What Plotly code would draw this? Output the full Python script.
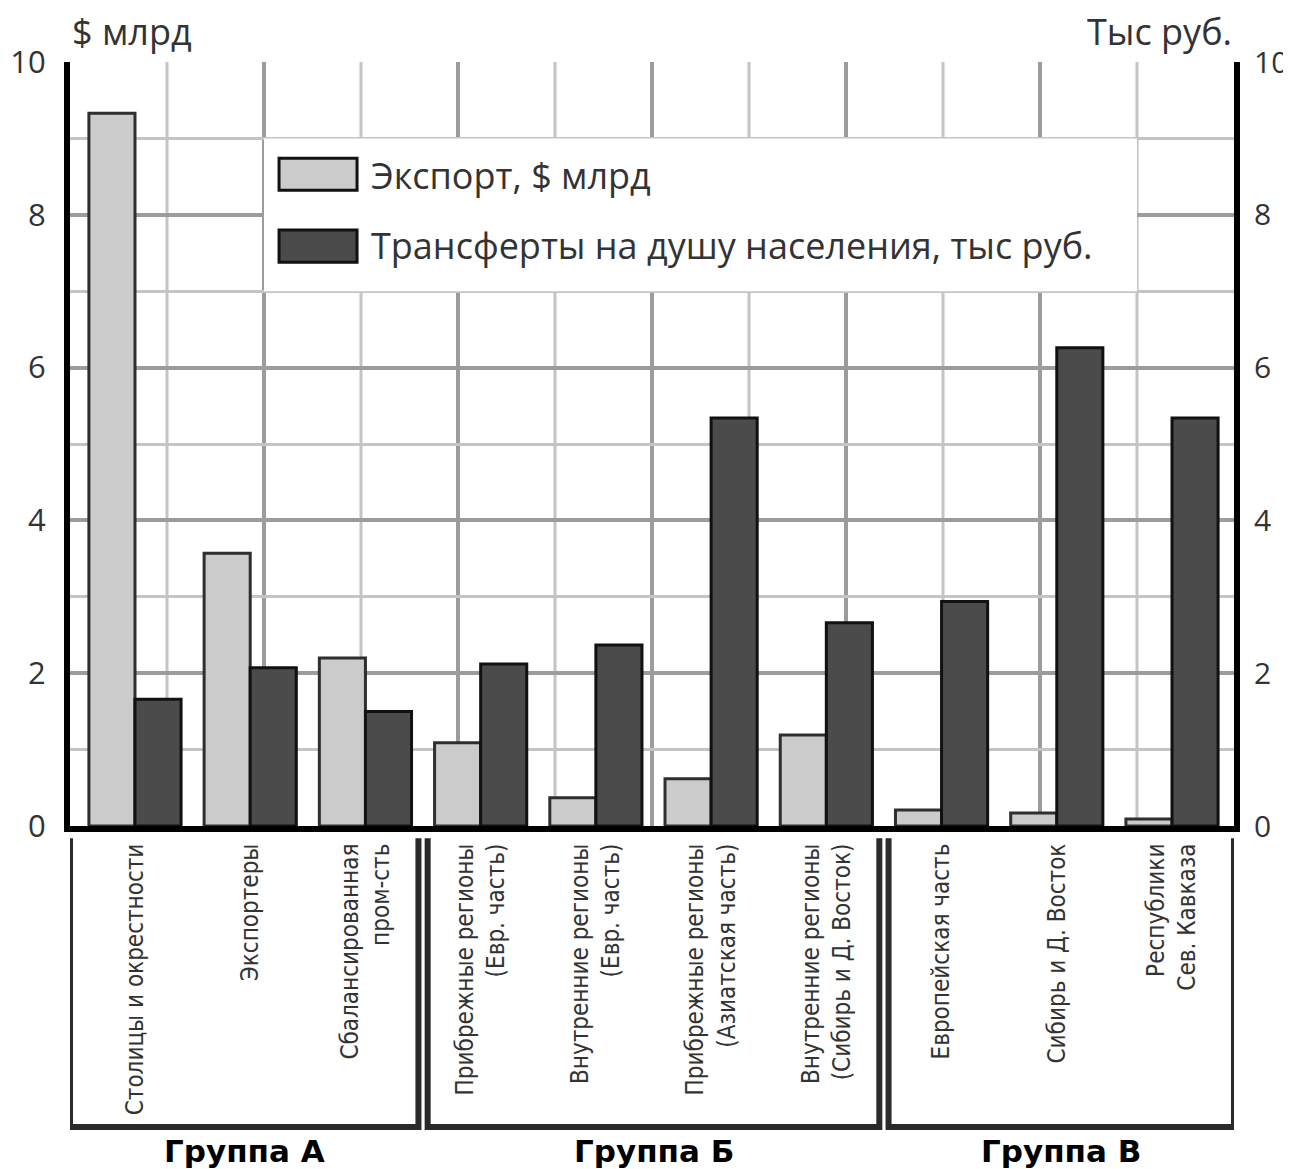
import plotly.graph_objects as go

# ---------------- data ----------------
categories = [
    "Столицы и окрестности",
    "Экспортеры",
    "Сбалансированная<br>пром-сть",
    "Прибрежные регионы<br>(Евр. часть)",
    "Внутренние регионы<br>(Евр. часть)",
    "Прибрежные регионы<br>(Азиатская часть)",
    "Внутренние регионы<br>(Сибирь и Д. Восток)",
    "Европейская часть",
    "Сибирь и Д. Восток",
    "Республики<br>Сев. Кавказа",
]
export_bn = [9.33, 3.57, 2.2, 1.09, 0.37, 0.62, 1.19, 0.21, 0.17, 0.09]
transfers_k = [1.66, 2.07, 1.5, 2.12, 2.37, 5.34, 2.66, 2.94, 6.26, 5.34]
series_names = ["Экспорт, $ млрд", "Трансферты на душу населения, тыс руб."]
groups = ["Группа А", "Группа Б", "Группа В"]
group_ranges = [(0, 2), (3, 6), (7, 9)]
left_title = "$ млрд"
right_title = "Тыс руб."

LIGHT = "#cbcbcb"
DARK = "#4b4b4b"
TXT = "#333333"
NUM_FONT = "Open Sans, Noto Sans, sans-serif"
CAT_FONT = "DejaVu Sans Condensed"

fig = go.Figure()
fig.add_trace(go.Bar(
    x=categories, y=export_bn, name=series_names[0],
    marker=dict(color=LIGHT, line=dict(color="#2e2e2e", width=3)),
    offsetgroup="a", yaxis="y",
))
fig.add_trace(go.Bar(
    x=categories, y=transfers_k, name=series_names[1],
    marker=dict(color=DARK, line=dict(color="#111111", width=3)),
    offsetgroup="b", yaxis="y2",
))

X0, X1 = -0.564, 9.538

shapes = []
# vertical grid (12 columns)
for i in range(1, 12):
    major = (i % 2 == 0)
    shapes.append(dict(type="line", xref="paper", yref="paper",
                       x0=i / 12, x1=i / 12, y0=0, y1=1, layer="below",
                       line=dict(color="#9c9c9c" if major else "#c4c4c4", width=4 if major else 3)))

# legend box (white) + swatches
shapes.append(dict(type="rect", xref="paper", yref="paper",
                   x0=2 / 12, x1=11 / 12, y0=0.7, y1=0.9, layer="above",
                   fillcolor="white", line=dict(width=0)))
shapes.append(dict(type="rect", xref="paper", yref="paper",
                   x0=0.1796, x1=0.2466, y0=0.832, y1=0.874, layer="above",
                   fillcolor=LIGHT, line=dict(color="#111", width=3)))
shapes.append(dict(type="rect", xref="paper", yref="paper",
                   x0=0.1796, x1=0.2466, y0=0.738, y1=0.780, layer="above",
                   fillcolor=DARK, line=dict(color="#111", width=3)))

annotations = [
    dict(text=series_names[0], xref="paper", yref="paper", x=0.257, y=0.851,
         xanchor="left", yanchor="middle", showarrow=False,
         font=dict(family=NUM_FONT, size=36, color=TXT)),
    dict(text=series_names[1], xref="paper", yref="paper", x=0.257, y=0.760,
         xanchor="left", yanchor="middle", showarrow=False,
         font=dict(family=NUM_FONT, size=36, color=TXT)),
    dict(text=left_title, xref="paper", yref="paper", x=0.0, y=1.005,
         xanchor="left", yanchor="bottom", showarrow=False,
         font=dict(family=NUM_FONT, size=36, color=TXT)),
    dict(text=right_title, xref="paper", yref="paper", x=1.0, y=1.005,
         xanchor="right", yanchor="bottom", showarrow=False,
         font=dict(family=NUM_FONT, size=36, color=TXT)),
]

# group brackets and labels
gap = 0.04
for g, (a, b) in zip(groups, group_ranges):
    xa = X0 if a == 0 else a - 0.5 + gap
    xb = X1 if b == len(categories) - 1 else b + 0.5 - gap
    y_top, y_bot = -0.016, -0.394
    shapes.append(dict(type="path", xref="x", yref="paper",
                       path=f"M {xa},{y_top} L {xa},{y_bot} L {xb},{y_bot} L {xb},{y_top}",
                       line=dict(color="#2a2a2a", width=6)))
    annotations.append(dict(text=f"<b>{g}</b>", xref="x", yref="paper",
                            x=(xa + xb) / 2, y=-0.426, xanchor="center", yanchor="middle",
                            showarrow=False,
                            font=dict(family="DejaVu Sans, Verdana, sans-serif", size=31, color="black")))

# the page adds an 8px body margin; size the figure so the plot lands where the reference has it
fig.update_layout(
    width=1283, height=1161,
    margin=dict(l=62, r=57, t=54, b=343),
    paper_bgcolor="white", plot_bgcolor="rgba(0,0,0,0)",
    showlegend=False,
    barmode="group", bargap=0.2, bargroupgap=0.0,
    shapes=shapes, annotations=annotations,
    xaxis=dict(
        type="category", range=[X0, X1], automargin=False,
        tickangle=-90, ticks="", showgrid=False,
        showline=True, linecolor="black", linewidth=6,
        tickfont=dict(family=CAT_FONT, size=24, color=TXT),
        ticklabelstandoff=2,
    ),
    yaxis=dict(
        range=[0, 10], dtick=2, tick0=0, automargin=False,
        showgrid=True, gridcolor="#9c9c9c", gridwidth=4,
        minor=dict(dtick=1, showgrid=True, gridcolor="#c4c4c4", gridwidth=3),
        zeroline=False,
        showline=True, linecolor="black", linewidth=6,
        ticks="", ticklabelstandoff=12,
        tickfont=dict(family=NUM_FONT, size=31, color=TXT),
    ),
    yaxis2=dict(
        range=[0, 10], dtick=2, tick0=0, overlaying="y", side="right", automargin=False,
        showgrid=False, zeroline=False,
        showline=True, linecolor="black", linewidth=6,
        ticks="", ticklabelstandoff=8,
        tickfont=dict(family=NUM_FONT, size=30, color=TXT),
    ),
)

fig.write_html("out.html")
